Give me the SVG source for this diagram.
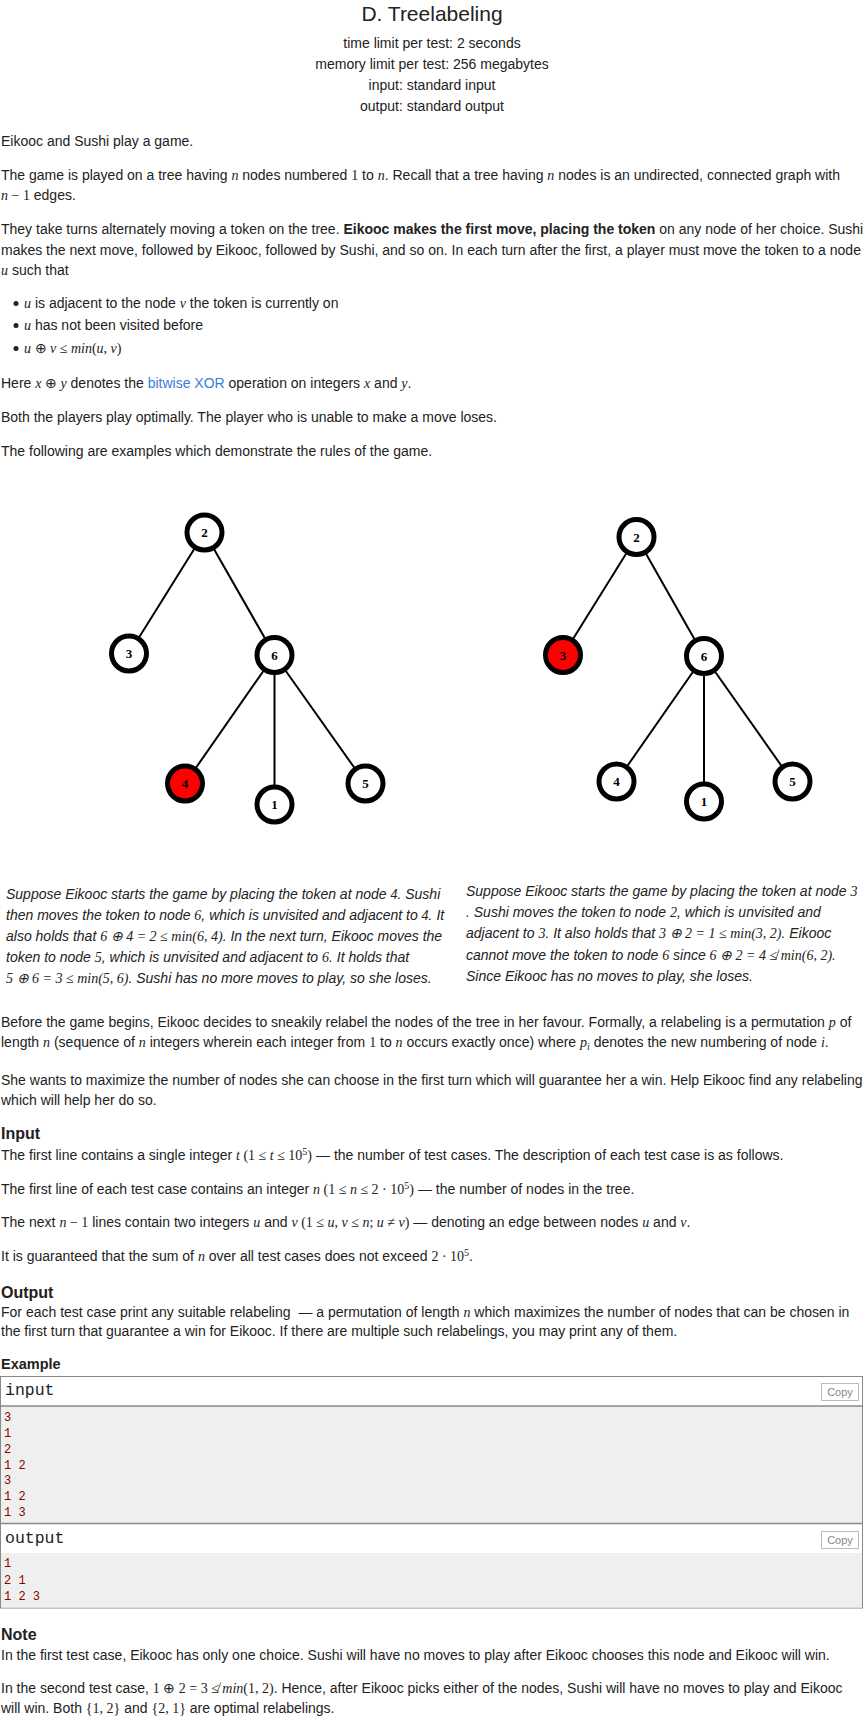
<svg xmlns="http://www.w3.org/2000/svg" width="864" height="1717" viewBox="0 0 864 1717">
<style>
text{font-family:"Liberation Sans",Arial,sans-serif;font-size:14px;fill:#222}
.c{text-anchor:middle}
.ttl{font-size:21px}
.i{font-style:italic}
.b{font-weight:bold}
.mi{font-family:"Liberation Serif","Times New Roman",serif;font-style:italic}
.mn{font-family:"Liberation Serif","Times New Roman",serif;font-style:normal}
.h{font-size:16px;font-weight:bold}
.ex{font-size:14.5px;font-weight:bold}
.lnk{fill:#3b7dd8}
.edge{stroke:#000;stroke-width:2;fill:none}
.node{fill:#fff;stroke:#000;stroke-width:5}
.red{fill:#ff0000}
.nl{font-family:"Liberation Serif","Times New Roman",serif;font-weight:bold;font-size:13px;text-anchor:middle;fill:#000}
.boxh{font-family:"Liberation Mono","Courier New",monospace;font-size:16.5px;fill:#222}
.dat{font-family:"Liberation Mono","Courier New",monospace;font-size:12px;fill:#8b0000}
.cpy{fill:#fff;stroke:#bbb;stroke-width:1}
.cpyt{font-size:11px;fill:#888;text-anchor:middle}
</style>

<!-- header -->
<g id="header">
<text class="c ttl" x="432" y="21">D. Treelabeling</text>
<text class="c" x="432" y="48">time limit per test: 2 seconds</text>
<text class="c" x="432" y="69">memory limit per test: 256 megabytes</text>
<text class="c" x="432" y="90">input: standard input</text>
<text class="c" x="432" y="111">output: standard output</text>
</g>

<!-- statement -->
<g id="statement">
<text x="1" y="146">Eikooc and Sushi play a game.</text>
<text x="1" y="180">The game is played on a tree having <tspan class="mi">n</tspan> nodes numbered <tspan class="mn">1</tspan> to <tspan class="mi">n</tspan>. Recall that a tree having <tspan class="mi">n</tspan> nodes is an undirected, connected graph with</text>
<text x="1" y="199.5"><tspan class="mi">n</tspan><tspan class="mn"> − 1</tspan> edges.</text>
<text x="1" y="234">They take turns alternately moving a token on the tree. <tspan class="b">Eikooc makes the first move, placing the token</tspan> on any node of her choice. Sushi</text>
<text x="1" y="255">makes the next move, followed by Eikooc, followed by Sushi, and so on. In each turn after the first, a player must move the token to a node</text>
<text x="1" y="274.5"><tspan class="mi">u</tspan> such that</text>
<circle cx="16" cy="303.5" r="2.5" fill="#222"/>
<text x="24" y="308">
<tspan class="mi">u</tspan> is adjacent to the node <tspan class="mi">v</tspan> the token is currently on</text>
<circle cx="16" cy="325.5" r="2.5" fill="#222"/>
<text x="24" y="330"><tspan class="mi">u</tspan> has not been visited before</text>
<circle cx="16" cy="348.5" r="2.5" fill="#222"/>
<text x="24" y="353"><tspan class="mi">u</tspan><tspan class="mn"> ⊕ </tspan><tspan class="mi">v</tspan><tspan class="mn"> ≤ </tspan><tspan class="mi">min</tspan><tspan class="mn">(</tspan><tspan class="mi">u</tspan><tspan class="mn">, </tspan><tspan class="mi">v</tspan><tspan class="mn">)</tspan></text>
<text x="1" y="388">Here <tspan class="mi">x</tspan><tspan class="mn"> ⊕ </tspan><tspan class="mi">y</tspan> denotes the <tspan class="lnk">bitwise XOR</tspan> operation on integers <tspan class="mi">x</tspan> and <tspan class="mi">y</tspan>.</text>
<text x="1" y="422">Both the players play optimally. The player who is unable to make a move loses.</text>
<text x="1" y="456">The following are examples which demonstrate the rules of the game.</text>
</g>

<!-- left tree -->
<g id="left-edges">
<line class="edge" x1="204.5" y1="532.5" x2="129" y2="653.5"/>
<line class="edge" x1="204.5" y1="532.5" x2="274.5" y2="655"/>
<line class="edge" x1="274.5" y1="655" x2="185" y2="783.5"/>
<line class="edge" x1="274.5" y1="655" x2="274.5" y2="804.5"/>
<line class="edge" x1="274.5" y1="655" x2="365.5" y2="783.5"/>
</g>
<g id="L2"><circle class="node" cx="204.5" cy="532.5" r="17.5"/><text class="nl" x="204.5" y="537">2</text></g>
<g id="L3"><circle class="node" cx="129" cy="653.5" r="17.5"/><text class="nl" x="129" y="658">3</text></g>
<g id="L6"><circle class="node" cx="274.5" cy="655" r="17.5"/><text class="nl" x="274.5" y="659.5">6</text></g>
<g id="L4"><circle class="node red" cx="185" cy="783.5" r="17.5"/><text class="nl" x="185" y="788">4</text></g>
<g id="L1"><circle class="node" cx="274.5" cy="804.5" r="17.5"/><text class="nl" x="274.5" y="809">1</text></g>
<g id="L5"><circle class="node" cx="365.5" cy="783.5" r="17.5"/><text class="nl" x="365.5" y="788">5</text></g>

<!-- right tree -->
<g id="right-edges">
<line class="edge" x1="636.5" y1="537" x2="563" y2="655"/>
<line class="edge" x1="636.5" y1="537" x2="704" y2="656"/>
<line class="edge" x1="704" y1="656" x2="616.5" y2="781.5"/>
<line class="edge" x1="704" y1="656" x2="704" y2="801.5"/>
<line class="edge" x1="704" y1="656" x2="792.5" y2="781.5"/>
</g>
<g id="R2"><circle class="node" cx="636.5" cy="537" r="17.5"/><text class="nl" x="636.5" y="541.5">2</text></g>
<g id="R3"><circle class="node red" cx="563" cy="655" r="17.5"/><text class="nl" x="563" y="659.5">3</text></g>
<g id="R6"><circle class="node" cx="704" cy="656" r="17.5"/><text class="nl" x="704" y="660.5">6</text></g>
<g id="R4"><circle class="node" cx="616.5" cy="781.5" r="17.5"/><text class="nl" x="616.5" y="786">4</text></g>
<g id="R1"><circle class="node" cx="704" cy="801.5" r="17.5"/><text class="nl" x="704" y="806">1</text></g>
<g id="R5"><circle class="node" cx="792.5" cy="781.5" r="17.5"/><text class="nl" x="792.5" y="786">5</text></g>

<!-- captions -->
<g id="caption-left">
<text class="i" x="6" y="899">Suppose Eikooc starts the game by placing the token at node <tspan class="mi">4</tspan>. Sushi</text>
<text class="i" x="6" y="920">then moves the token to node <tspan class="mi">6</tspan>, which is unvisited and adjacent to <tspan class="mi">4</tspan>. It</text>
<text class="i" x="6" y="941">also holds that <tspan class="mi">6 ⊕ 4 = 2 ≤ min(6, 4)</tspan>. In the next turn, Eikooc moves the</text>
<text class="i" x="6" y="962">token to node <tspan class="mi">5</tspan>, which is unvisited and adjacent to <tspan class="mi">6</tspan>. It holds that</text>
<text class="i" x="6" y="983"><tspan class="mi">5 ⊕ 6 = 3 ≤ min(5, 6)</tspan>. Sushi has no more moves to play, so she loses.</text>
</g>
<g id="caption-right">
<text class="i" x="466" y="895.5">Suppose Eikooc starts the game by placing the token at node <tspan class="mi">3</tspan></text>
<text class="i" x="466" y="916.5">. Sushi moves the token to node <tspan class="mi">2</tspan>, which is unvisited and</text>
<text class="i" x="466" y="938">adjacent to <tspan class="mi">3</tspan>. It also holds that <tspan class="mi">3 ⊕ 2 = 1 ≤ min(3, 2)</tspan>. Eikooc</text>
<text class="i" x="466" y="959.5">cannot move the token to node <tspan class="mi">6</tspan> since <tspan class="mi">6 ⊕ 2 = 4 ≰ min(6, 2)</tspan>.</text>
<text class="i" x="466" y="980.5">Since Eikooc has no moves to play, she loses.</text>
</g>

<g id="statement-2">
<text x="1" y="1027">Before the game begins, Eikooc decides to sneakily relabel the nodes of the tree in her favour. Formally, a relabeling is a permutation <tspan class="mi">p</tspan> of</text>
<text x="1" y="1047">length <tspan class="mi">n</tspan> (sequence of <tspan class="mi">n</tspan> integers wherein each integer from <tspan class="mn">1</tspan> to <tspan class="mi">n</tspan> occurs exactly once) where <tspan class="mi">p</tspan><tspan class="mi" dy="3" font-size="10">i</tspan><tspan dy="-3"> denotes the new numbering of node </tspan><tspan class="mi">i</tspan>.</text>
<text x="1" y="1085">She wants to maximize the number of nodes she can choose in the first turn which will guarantee her a win. Help Eikooc find any relabeling</text>
<text x="1" y="1104.5">which will help her do so.</text>
</g>

<g id="input-section">
<text class="h" x="1" y="1139">Input</text>
<text x="1" y="1159.5">The first line contains a single integer <tspan class="mi">t</tspan><tspan class="mn"> (1 ≤ </tspan><tspan class="mi">t</tspan><tspan class="mn"> ≤ 10</tspan><tspan class="mn" dy="-5" font-size="10">5</tspan><tspan class="mn" dy="5">)</tspan><tspan dx="4">— the number of test cases. The description of each test case is as follows.</tspan></text>
<text x="1" y="1193.5">The first line of each test case contains an integer <tspan class="mi">n</tspan><tspan class="mn"> (1 ≤ </tspan><tspan class="mi">n</tspan><tspan class="mn"> ≤ 2 · 10</tspan><tspan class="mn" dy="-5" font-size="10">5</tspan><tspan class="mn" dy="5">)</tspan><tspan dx="4">— the number of nodes in the tree.</tspan></text>
<text x="1" y="1226.5">The next <tspan class="mi">n</tspan><tspan class="mn"> − 1</tspan> lines contain two integers <tspan class="mi">u</tspan> and <tspan class="mi">v</tspan><tspan class="mn"> (1 ≤ </tspan><tspan class="mi">u</tspan><tspan class="mn">, </tspan><tspan class="mi">v</tspan><tspan class="mn"> ≤ </tspan><tspan class="mi">n</tspan><tspan class="mn">; </tspan><tspan class="mi">u</tspan><tspan class="mn"> ≠ </tspan><tspan class="mi">v</tspan><tspan class="mn">)</tspan><tspan dx="4">— denoting an edge between nodes </tspan><tspan class="mi">u</tspan> and <tspan class="mi">v</tspan>.</text>
<text x="1" y="1260.5">It is guaranteed that the sum of <tspan class="mi">n</tspan> over all test cases does not exceed <tspan class="mn">2 · 10</tspan><tspan class="mn" dy="-5" font-size="10">5</tspan><tspan dy="5">.</tspan></text>
</g>

<g id="output-section">
<text class="h" x="1" y="1297.5">Output</text>
<text x="1" y="1316.5">For each test case print any suitable relabeling <tspan dx="4">— a permutation of length </tspan><tspan class="mi">n</tspan> which maximizes the number of nodes that can be chosen in</text>
<text x="1" y="1335.5">the first turn that guarantee a win for Eikooc. If there are multiple such relabelings, you may print any of them.</text>
</g>

<g id="example">
<text class="ex" x="1" y="1369">Example</text>
<rect x="0.5" y="1376.5" width="862" height="231.5" fill="#fff" stroke="#888" stroke-width="1"/>
<rect x="1" y="1406" width="861" height="117" fill="#efefef"/>
<rect x="1" y="1553" width="861" height="54.5" fill="#efefef"/>
<line x1="0.5" y1="1406" x2="862.5" y2="1406" stroke="#888" stroke-width="1.5"/>
<line x1="0.5" y1="1523.5" x2="862.5" y2="1523.5" stroke="#888" stroke-width="1.5"/>
<g id="input-box">
<text class="boxh" x="5" y="1395">input</text>
<rect class="cpy" x="821.5" y="1383.5" width="37" height="17"/>
<text class="cpyt" x="840" y="1396">Copy</text>
<text class="dat" x="4" y="1421">3</text>
<text class="dat" x="4" y="1437">1</text>
<text class="dat" x="4" y="1452.5">2</text>
<text class="dat" x="4" y="1468.5">1 2</text>
<text class="dat" x="4" y="1484">3</text>
<text class="dat" x="4" y="1500">1 2</text>
<text class="dat" x="4" y="1516">1 3</text>
</g>
<g id="output-box">
<text class="boxh" x="5" y="1543">output</text>
<rect class="cpy" x="821.5" y="1531.5" width="37" height="17"/>
<text class="cpyt" x="840" y="1544">Copy</text>
<text class="dat" x="4" y="1567">1</text>
<text class="dat" x="4" y="1583.5">2 1</text>
<text class="dat" x="4" y="1600">1 2 3</text>
</g>
</g>

<g id="note">
<text class="h" x="1" y="1639.5">Note</text>
<text x="1" y="1659.5">In the first test case, Eikooc has only one choice. Sushi will have no moves to play after Eikooc chooses this node and Eikooc will win.</text>
<text x="1" y="1693">In the second test case, <tspan class="mn">1 ⊕ 2 = 3 ≰ </tspan><tspan class="mi">min</tspan><tspan class="mn">(1, 2)</tspan>. Hence, after Eikooc picks either of the nodes, Sushi will have no moves to play and Eikooc</text>
<text x="1" y="1712.5">will win. Both <tspan class="mn">{1, 2}</tspan> and <tspan class="mn">{2, 1}</tspan> are optimal relabelings.</text>
</g>
</svg>
